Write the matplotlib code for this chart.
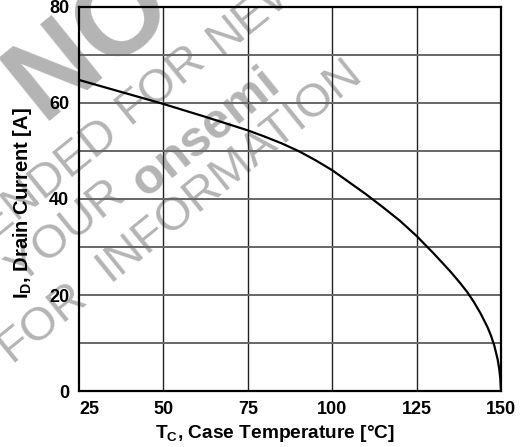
import matplotlib
matplotlib.use('Agg')
import matplotlib.pyplot as plt

plt.rcParams['font.family'] = ['Liberation Sans', 'DejaVu Sans']
plt.rcParams['mathtext.fontset'] = 'custom'
plt.rcParams['mathtext.rm'] = 'Liberation Sans:bold'

# case temperature [C] / drain current [A]
tc = [25, 37.5, 50, 62.5, 75, 80, 85, 90, 95, 100, 105, 110, 115, 120, 125, 130,
      135, 138, 140, 142, 144, 146, 147, 148, 149, 149.5, 149.8, 150]
i_d = [64.8, 62.3, 59.8, 57.1, 54.3, 53.0, 51.6, 50.0, 48.1, 46.0, 43.5, 41.0, 38.3,
       35.5, 32.3, 28.7, 24.9, 22.4, 20.6, 18.5, 16.1, 13.3, 11.6, 9.5, 6.6, 4.5, 2.5, 0.0]

x_ticks = [25, 50, 75, 100, 125, 150]
y_ticks = [0, 20, 40, 60, 80]
y_grid = [10, 20, 30, 40, 50, 60, 70]

# watermark words: (text, centre x px, centre y px, bold, size pt)
watermark = [
    ("NOT", 118, 20, True, 84),
    ("RECOMMENDED", -36, 246, False, 34),
    ("FOR", 160, 84, False, 34),
    ("NEW", 255, 12, False, 34),
    ("CONTACT", -100, 360, False, 34),
    ("YOUR", 66, 232, False, 34),
    ("onsemi", 206, 133, True, 36),
    ("FOR", 42, 322, False, 34),
    ("INFORMATION", 229, 170, False, 34),
]

W, H = 532, 447
fig = plt.figure(figsize=(W / 100, H / 100), dpi=100)
ax = fig.add_axes([79 / W, 1 - 391 / H, 422 / W, 384 / H])
ax.set_facecolor('none')

for txt, cx, cy, bold, size in watermark:
    fig.text(cx / W, 1 - cy / H, txt, rotation=39, rotation_mode='anchor',
             ha='center', va='center', fontsize=size, color='#b4b4b4',
             fontweight='bold' if bold else 'normal', zorder=-1)

for x in x_ticks[1:-1]:
    ax.axvline(x, color='#222222', lw=1.0, zorder=1)
for y in y_grid:
    ax.axhline(y, color='#666666', lw=1.4, zorder=1)

ax.plot(tc, i_d, color='black', lw=1.6, zorder=3)

ax.set_xlim(25, 150)
ax.set_ylim(0, 80)
ax.set_xticks(x_ticks)
ax.set_yticks(y_ticks)
ax.tick_params(length=0, labelsize=13, pad=7)
for lab in ax.get_xticklabels() + ax.get_yticklabels():
    lab.set_fontweight('bold')
ax.get_xticklabels()[0].set_ha('left')
for s in ax.spines.values():
    s.set_linewidth(1.6)

ax.set_xlabel(r'T$_\mathrm{C}$, Case Temperature [°C]', fontsize=13.8, fontweight='bold')
ax.set_ylabel(r'I$_\mathrm{D}$, Drain Current [A]', fontsize=14.5, fontweight='bold')
ax.xaxis.set_label_coords(0.464, -0.083)
ax.yaxis.set_label_coords(-0.107, 0.49)

fig.savefig('out.png', dpi=100)
